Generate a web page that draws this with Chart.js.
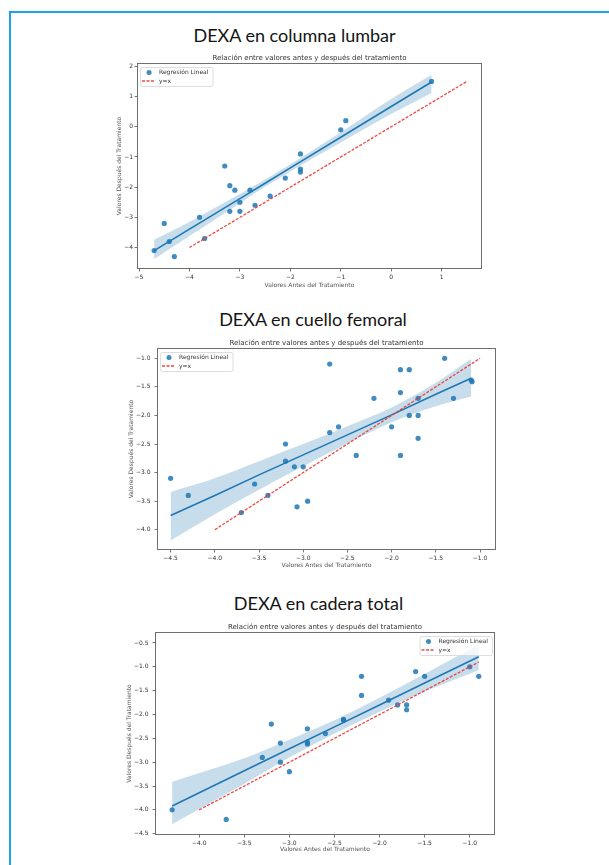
<!DOCTYPE html>
<html>
<head>
<meta charset="utf-8">
<script src="https://cdn.jsdelivr.net/npm/chart.js@4.4.1/dist/chart.umd.min.js"></script>
<style>
  html, body { margin: 0; padding: 0; background: #fff; }
  body { width: 609px; height: 865px; position: relative; overflow: hidden; }
  .frame { position: absolute; left: 9px; top: 11px; right: -10px; bottom: -10px;
           border-left: 2px solid #1ba6e2; border-top: 2px solid #1ba6e2; }
  .heading { position: absolute; font-family: Lato, "Open Sans", sans-serif; font-size: 18px;
             line-height: 1; color: #141414; transform: translateX(-50%); white-space: nowrap; }
  .plot { position: absolute; }
</style>
</head>
<body>
<div class="frame"></div>
<div class="heading" style="left:294.5px; top:26px;">DEXA en columna lumbar</div>
<div class="heading" style="left:313px; top:310px;">DEXA en cuello femoral</div>
<div class="heading" style="left:318.5px; top:594px;">DEXA en cadera total</div>

<div class="plot" id="box1"><canvas id="c1"></canvas></div>
<div class="plot" id="box2"><canvas id="c2"></canvas></div>
<div class="plot" id="box3"><canvas id="c3"></canvas></div>

<script>
// ---- Columna lumbar ----
const lumbarBefore = [-4.7, -4.5, -4.4, -4.3, -3.8, -3.7, -3.3, -3.2, -3.2, -3.1, -3.0, -3.0, -2.8, -2.7, -2.4, -2.1, -1.8, -1.8, -1.8, -1.0, -0.9, 0.8];
const lumbarAfter  = [-4.1, -3.2, -3.8, -4.3, -3.0, -3.7, -1.3, -1.95, -2.8, -2.1, -2.5, -2.8, -2.1, -2.6, -2.3, -1.7, -0.9, -1.4, -1.5, -0.1, 0.2, 1.5];
const lumbarFitX   = [-4.7, -4.0, -3.0, -2.5, -2.0, -1.0, 0.0, 0.8];
const lumbarFitY   = [-4.10, -3.39, -2.38, -1.87, -1.36, -0.35, 0.67, 1.48];
const lumbarBandLo = [-4.38, -3.62, -2.53, -1.99, -1.48, -0.52, 0.42, 1.12];
const lumbarBandHi = [-3.74, -3.15, -2.23, -1.75, -1.24, -0.18, 0.92, 1.72];
const lumbarIdentity = [-4.0, 1.5];
const lumbarXTicks = ['\u22125', '\u22124', '\u22123', '\u22122', '\u22121', '0', '1'];
const lumbarYTicks = ['\u22124', '\u22123', '\u22122', '\u22121', '0', '1', '2'];

// ---- Cuello femoral ----
const femoralBefore = [-4.5, -4.3, -3.7, -3.55, -3.4, -3.2, -3.2, -3.1, -3.07, -3.0, -2.95, -2.7, -2.7, -2.6, -2.4, -2.2, -2.0, -1.9, -1.9, -1.9, -1.8, -1.8, -1.7, -1.7, -1.7, -1.4, -1.3, -1.1, -1.09];
const femoralAfter  = [-3.1, -3.4, -3.7, -3.2, -3.4, -2.5, -2.8, -2.9, -3.6, -2.9, -3.5, -1.1, -2.3, -2.2, -2.7, -1.7, -2.2, -1.2, -1.6, -2.7, -1.2, -2.0, -1.7, -2.0, -2.4, -1.0, -1.7, -1.38, -1.41];
const femoralFitX   = [-4.5, -4.0, -3.5, -3.0, -2.5, -2.0, -1.5, -1.1];
const femoralFitY   = [-3.75, -3.40, -3.04, -2.69, -2.34, -1.99, -1.63, -1.35];
const femoralBandLo = [-4.19, -3.73, -3.30, -2.89, -2.49, -2.12, -1.84, -1.67];
const femoralBandHi = [-3.34, -3.10, -2.80, -2.50, -2.19, -1.86, -1.43, -1.01];
const femoralIdentity = [-4.0, -1.0];
const femoralXTicks = ['\u22124.5', '\u22124.0', '\u22123.5', '\u22123.0', '\u22122.5', '\u22122.0', '\u22121.5', '\u22121.0'];
const femoralYTicks = ['\u22124.0', '\u22123.5', '\u22123.0', '\u22122.5', '\u22122.0', '\u22121.5', '\u22121.0'];

// ---- Cadera total ----
const hipBefore = [-4.3, -3.7, -3.3, -3.2, -3.1, -3.1, -3.0, -2.8, -2.8, -2.8, -2.6, -2.4, -2.4, -2.2, -2.2, -1.9, -1.8, -1.7, -1.7, -1.6, -1.5, -1.0, -0.9];
const hipAfter  = [-4.0, -4.2, -2.9, -2.2, -2.6, -3.0, -3.2, -2.3, -2.58, -2.62, -2.4, -2.1, -2.12, -1.2, -1.6, -1.7, -1.8, -1.8, -1.9, -1.1, -1.2, -1.0, -1.2];
const hipFitX   = [-4.3, -3.5, -3.0, -2.5, -2.0, -1.5, -0.9];
const hipFitY   = [-3.92, -3.18, -2.72, -2.26, -1.80, -1.34, -0.79];
const hipBandLo = [-4.30, -3.45, -2.90, -2.40, -1.94, -1.52, -1.07];
const hipBandHi = [-3.41, -2.92, -2.53, -2.12, -1.65, -1.15, -0.53];
const hipIdentity = [-4.0, -0.9];
const hipXTicks = ['\u22124.0', '\u22123.5', '\u22123.0', '\u22122.5', '\u22122.0', '\u22121.5', '\u22121.0'];
const hipYTicks = ['\u22124.5', '\u22124.0', '\u22123.5', '\u22123.0', '\u22122.5', '\u22122.0', '\u22121.5', '\u22121.0', '\u22120.5'];

const subtitleText = 'Relación entre valores antes y después del tratamiento';
const xTitleText = 'Valores Antes del Tratamiento';
const yTitleText = 'Valores Después del Tratamiento';
const scatterLabel = 'Regresión Lineal';
const identityLabel = 'y=x';

const BLUE = '#1f77b4';
const RED = 'rgba(238,52,44,0.9)';
const FONT = '"DejaVu Sans", sans-serif';

const toNum = s => Number(String(s).replace('\u2212', '-'));
const pairs = (xs, ys) => xs.map((x, i) => ({ x, y: ys[i] }));

// Frame, subtitle and in-axes legend, drawn on top of the datasets.
const decorPlugin = {
  id: 'decor',
  afterDraw(chart, args, opts) {
    const { ctx, chartArea: a } = chart;
    ctx.save();
    ctx.strokeStyle = '#6e6e6e';
    ctx.lineWidth = 1;
    ctx.strokeRect(Math.round(a.left) + 0.5, Math.round(a.top) + 0.5,
                   Math.round(a.right - a.left) - 1, Math.round(a.bottom - a.top) - 1);

    ctx.fillStyle = '#333';
    ctx.font = '7px ' + FONT;
    ctx.textAlign = 'center';
    ctx.textBaseline = 'middle';
    ctx.fillText(opts.subtitle, (a.left + a.right) / 2, a.top - 5);

    // legend box
    const w = 72.5, h = 19;
    const bx = opts.corner === 'right' ? a.right - 3 - w : a.left + 3;
    const by = a.top + 4;
    ctx.fillStyle = 'rgba(255,255,255,0.8)';
    ctx.strokeStyle = '#d4d4d4';
    ctx.lineWidth = 0.8;
    ctx.beginPath();
    ctx.roundRect(bx + 0.5, by + 0.5, w, h, 2);
    ctx.fill();
    ctx.stroke();

    const scatterDs = chart.data.datasets[0];
    const identityDs = chart.data.datasets[4];
    ctx.fillStyle = scatterDs.backgroundColor;
    ctx.beginPath();
    ctx.arc(bx + 9, by + 5.5, 2.5, 0, Math.PI * 2);
    ctx.fill();

    ctx.strokeStyle = identityDs.borderColor;
    ctx.lineWidth = identityDs.borderWidth;
    ctx.setLineDash(identityDs.borderDash);
    ctx.beginPath();
    ctx.moveTo(bx + 2, by + 14);
    ctx.lineTo(bx + 15, by + 14);
    ctx.stroke();
    ctx.setLineDash([]);

    ctx.fillStyle = '#333';
    ctx.font = '6px ' + FONT;
    ctx.textAlign = 'left';
    ctx.fillText(scatterDs.label, bx + 19, by + 5.5);
    ctx.fillText(identityDs.label, bx + 19, by + 14);
    ctx.restore();
  }
};

function axis(range, labels, title, size, tickPad) {
  const values = labels.map(toNum);
  return {
    type: 'linear',
    min: range[0],
    max: range[1],
    afterBuildTicks: s => { s.ticks = values.map(v => ({ value: v })); },
    afterFit: s => { if (s.isHorizontal()) s.height = size; else s.width = size; },
    ticks: {
      autoSkip: false, maxRotation: 0, padding: tickPad, color: '#333',
      font: { family: FONT, size: 6 },
      callback: v => { const i = values.indexOf(v); return i >= 0 ? labels[i] : ''; }
    },
    grid: { drawOnChartArea: false, drawTicks: true, tickLength: 2.5, color: '#555', lineWidth: 0.8 },
    border: { display: false },
    title: { display: true, text: title, color: '#555', padding: 0, font: { family: FONT, size: 6 } }
  };
}

function makeChart(id, boxId, cfg) {
  const p = cfg.plot;
  const left = p.L - cfg.yW, top = p.T - cfg.padTop;
  const width = p.R + cfg.padRight - left, height = p.B + cfg.xH - top;
  const box = document.getElementById(boxId);
  box.style.left = left + 'px';
  box.style.top = top + 'px';
  const canvas = document.getElementById(id);
  canvas.width = width;
  canvas.height = height;
  canvas.style.width = width + 'px';
  canvas.style.height = height + 'px';

  return new Chart(canvas, {
    type: 'line',
    data: {
      datasets: [
        { label: scatterLabel, data: pairs(cfg.before, cfg.after), showLine: false,
          pointRadius: 2.6, pointBorderWidth: 0, backgroundColor: 'rgba(31,119,180,0.85)',
          borderColor: 'rgba(31,119,180,0.85)', order: 5 },
        { label: 'ci-low', data: pairs(cfg.fitX, cfg.bandLo), borderWidth: 0, pointRadius: 0,
          fill: false, cubicInterpolationMode: 'monotone', order: 4 },
        { label: 'ci-high', data: pairs(cfg.fitX, cfg.bandHi), borderWidth: 0, pointRadius: 0,
          fill: '-1', backgroundColor: 'rgba(31,119,180,0.25)', cubicInterpolationMode: 'monotone', order: 4 },
        { label: 'fit', data: pairs(cfg.fitX, cfg.fitY), borderColor: BLUE, borderWidth: 1.6,
          pointRadius: 0, fill: false, order: 3 },
        { label: identityLabel, data: pairs(cfg.identity, cfg.identity), borderColor: RED,
          borderWidth: 1.3, borderDash: [3, 1.5], pointRadius: 0, fill: false, order: 1 }
      ]
    },
    options: {
      responsive: false,
      animation: false,
      events: [],
      layout: { padding: { top: cfg.padTop, right: cfg.padRight, left: 0, bottom: 0 } },
      scales: {
        x: axis(cfg.xRange, cfg.xTicks, xTitleText, cfg.xH, 2),
        y: axis(cfg.yRange, cfg.yTicks, yTitleText, cfg.yW, cfg.yTickPad)
      },
      plugins: {
        legend: { display: false },
        tooltip: { enabled: false },
        decor: { subtitle: subtitleText, corner: cfg.corner }
      }
    },
    plugins: [decorPlugin]
  });
}

makeChart('c1', 'box1', {
  plot: { L: 137, T: 63, R: 482, B: 269 }, yW: 21, xH: 20, padTop: 16, padRight: 8, yTickPad: 1.5,
  xRange: [-5.04, 1.80], yRange: [-4.71, 2.11], corner: 'left',
  before: lumbarBefore, after: lumbarAfter, fitX: lumbarFitX, fitY: lumbarFitY,
  bandLo: lumbarBandLo, bandHi: lumbarBandHi, identity: lumbarIdentity,
  xTicks: lumbarXTicks, yTicks: lumbarYTicks
});

makeChart('c2', 'box2', {
  plot: { L: 157, T: 348, R: 496, B: 550 }, yW: 29, xH: 19, padTop: 16, padRight: 8, yTickPad: 4,
  xRange: [-4.654, -0.819], yRange: [-4.355, -0.82], corner: 'left',
  before: femoralBefore, after: femoralAfter, fitX: femoralFitX, fitY: femoralFitY,
  bandLo: femoralBandLo, bandHi: femoralBandHi, identity: femoralIdentity,
  xTicks: femoralXTicks, yTicks: femoralYTicks
});

makeChart('c3', 'box3', {
  plot: { L: 155, T: 632, R: 495, B: 835 }, yW: 29, xH: 18, padTop: 16, padRight: 8, yTickPad: 4,
  xRange: [-4.49, -0.72], yRange: [-4.527, -0.27], corner: 'right',
  before: hipBefore, after: hipAfter, fitX: hipFitX, fitY: hipFitY,
  bandLo: hipBandLo, bandHi: hipBandHi, identity: hipIdentity,
  xTicks: hipXTicks, yTicks: hipYTicks
});
</script>
</body>
</html>
